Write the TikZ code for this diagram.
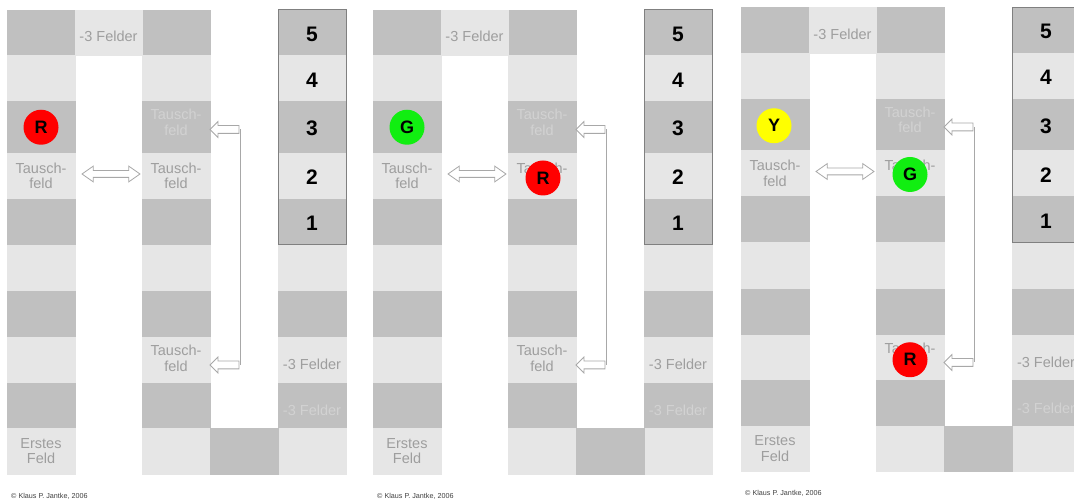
\documentclass[tikz,border=0pt]{standalone}
\usepackage{fontspec}
\setmainfont{Liberation Sans}
\usetikzlibrary{shapes.arrows,calc}
\definecolor{dk}{HTML}{C0C0C0}
\definecolor{lt}{HTML}{E6E6E6}
\definecolor{txtL}{HTML}{9E9E9E}
\definecolor{txtD}{HTML}{D2D2D2}
\definecolor{arrc}{HTML}{A8A8A8}
\definecolor{boxc}{HTML}{808080}
\definecolor{tokR}{HTML}{FF0000}
\definecolor{tokG}{HTML}{11EE11}
\definecolor{tokY}{HTML}{FFFF00}
\tikzset{
  cell/.style={rectangle, inner sep=0pt, outer sep=0pt, minimum width=68pt, line width=0.3pt, anchor=north west},
  lbl/.style={inner sep=0pt, align=center, font=\fontsize{14.5}{15.5}\selectfont},
  num/.style={inner sep=0pt, font=\fontsize{21}{22}\selectfont\bfseries, text=black},
  token/.style={circle, inner sep=0pt, minimum size=35pt, font=\fontsize{18}{20}\selectfont\bfseries, text=black},
  larrow/.style={single arrow, shape border rotate=180, draw=arrc, fill=white, line width=0.8pt,
    minimum height=29pt, minimum width=15pt, single arrow head extend=4pt, inner xsep=3pt, inner ysep=3.5pt},
  darrow/.style={double arrow, draw=arrc, fill=white, line width=0.8pt, minimum height=58pt,
    minimum width=15pt, double arrow head extend=4.5pt, double arrow tip angle=70, inner sep=3pt},
  vline/.style={draw=arrc, line width=0.8pt},
  boxline/.style={draw=boxc, line width=1pt},
  copyr/.style={inner sep=0pt, anchor=west, text=black!75, font=\fontsize{7.2}{8}\selectfont},
}
\newcommand\boardpanel[3]{%
  \foreach \r/\t/\b in {1/10/55.5,2/55.5/101.5,3/101.5/153,4/153/199,5/199/245,6/245/291.5,7/291.5/337.5,8/337.5/383,9/383/428.5,10/428.5/474}{
    \pgfmathsetmacro\hh{\b-\t}
    \ifodd\r\relax\def\fc{dk}\else\def\fc{lt}\fi
    \foreach \c/\x in {1/7,2/142,3/278}{
      \node[cell, fill=\fc, draw=\fc, minimum height=\hh pt] (#1-\c-\r) at ({\x+#2}, {\t+#3}) {};
    }
  }
  \node[cell, fill=lt, draw=lt, minimum width=67pt, minimum height=45.5pt] (#1-t) at ({75+#2}, {10+#3}) {};
  \node[cell, fill=dk, draw=dk, minimum height=45.5pt] (#1-b) at ({210+#2}, {428.5+#3}) {};
  \draw[boxline] (#1-3-1.north west) rectangle (#1-3-5.south east);
  \node[lbl, text=txtL] (#1-tl) at ([yshift=-4pt]#1-t.center) {-3 Felder};
  \node[lbl, text=txtL] (#1-l14) at (#1-1-4.center) {Tausch-\\feld};
  \node[lbl, text=txtD] (#1-l23) at ([yshift=5pt]#1-2-3.center) {Tausch-\\feld};
  \node[lbl, text=txtL] (#1-l24) at (#1-2-4.center) {Tausch-\\feld};
  \node[lbl, text=txtL] (#1-l28) at ([yshift=2pt]#1-2-8.center) {Tausch-\\feld};
  \node[lbl, text=txtL] (#1-l110) at (#1-1-10.center) {Erstes\\Feld};
  \node[lbl, text=txtL] (#1-l38) at ([yshift=-4.5pt]#1-3-8.center) {-3 Felder};
  \node[lbl, text=txtD] (#1-l39) at ([yshift=-5pt]#1-3-9.center) {-3 Felder};
  \foreach \r/\n in {1/5,2/4,3/3,4/2,5/1}{
    \node[num] (#1-n\r) at ([yshift=-1.5pt]#1-3-\r.center) {\n};
  }
  \node[darrow] (#1-da) at ($(#1-1-4.east)!0.5!(#1-2-4.west)+(2.5,-2)$) {};
  \draw[vline] ($(#1-2-3.east)+(30.5,2.25)$) coordinate (#1-vt) -- ($(#1-2-8.east)+(30.5,4.75)$) coordinate (#1-vb);
  \node[larrow] (#1-ua) at ($(#1-2-3.east)+(16.5,2.25)$) {};
  \node[larrow] (#1-la) at ($(#1-2-8.east)+(16.5,4.75)$) {};
  \node[copyr] (#1-cp) at ({11+#2}, {496+#3}) {© Klaus P. Jantke, 2006};
}
\begin{document}
\begin{tikzpicture}[x=1pt,y=-1pt]
  \useasboundingbox (0,0) rectangle (1074,502);
  \clip (0,0) rectangle (1074,502);
  \fill[white] (0,0) rectangle (1074,502);
  \boardpanel{A}{0}{0}
  \boardpanel{B}{366}{0}
  \boardpanel{C}{734}{-2.5}
  % tokens
  \node[token, fill=tokR] (A-tokR) at (A-1-3.center) {R};
  \node[token, fill=tokG] (B-tokG) at (B-1-3.center) {G};
  \node[token, fill=tokR] (B-tokR) at ([xshift=1pt,yshift=-2pt]B-2-4.center) {R};
  \node[token, fill=tokY] (C-tokY) at ([xshift=-1pt,yshift=-1pt]C-1-3.center) {Y};
  \node[token, fill=tokG] (C-tokG) at ([yshift=-1pt]C-2-4.center) {G};
  \node[token, fill=tokR] (C-tokR) at ([yshift=-2pt]C-2-8.center) {R};
\end{tikzpicture}
\end{document}
